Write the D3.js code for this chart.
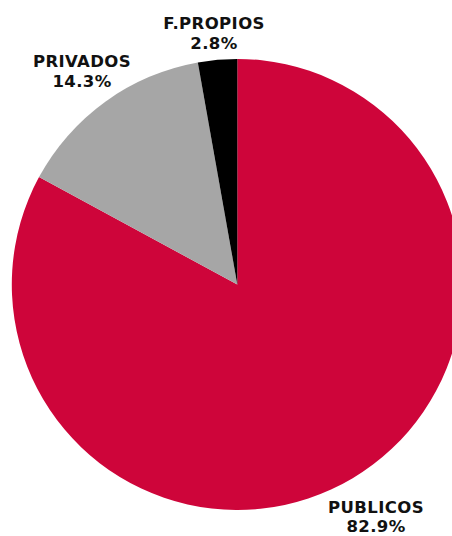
<!DOCTYPE html>
<html><head><meta charset="utf-8">
<script src="https://cdn.jsdelivr.net/npm/d3@7"></script>
<style>html,body{margin:0;padding:0;background:#fff;}svg{display:block;}</style>
</head><body>
<svg id="c" width="452" height="536"></svg>
<script>
const categories = ["PUBLICOS", "PRIVADOS", "F.PROPIOS"];
const values = [82.9, 14.3, 2.8];
const valueLabels = ["82.9%", "14.3%", "2.8%"];
const colors = ["#CE053A", "#A6A6A6", "#000000"];
const labelPos = [[376, 513], [82, 67], [214, 29]];

const svg = d3.select("#c");
const cx = 237.3, cy = 284.5, r = 225.5;
const pie = d3.pie().sort(null).value(d => d)(values);
const arc = d3.arc().innerRadius(0).outerRadius(r);
const g = svg.append("g").attr("transform", `translate(${cx},${cy})`);
g.selectAll("path").data(pie).join("path")
  .attr("d", arc).attr("fill", (d, i) => colors[i]);

const lg = svg.append("g").attr("font-family", "'DejaVu Sans', sans-serif")
  .attr("font-weight", "bold").attr("font-size", 16.5).attr("letter-spacing", 0.4)
  .attr("fill", "#111").attr("text-anchor", "middle");
categories.forEach((c, i) => {
  const t = lg.append("text").attr("x", labelPos[i][0]).attr("y", labelPos[i][1]);
  t.append("tspan").attr("x", labelPos[i][0]).text(c);
  t.append("tspan").attr("x", labelPos[i][0]).attr("dy", i === 0 ? 18.5 : 19.5).text(valueLabels[i]);
});
</script>
</body></html>
